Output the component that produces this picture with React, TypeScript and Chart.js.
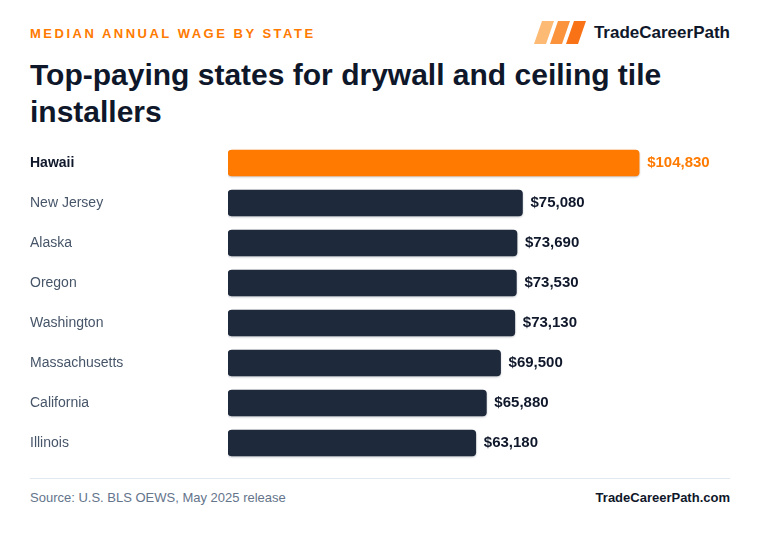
import React, { useEffect, useRef } from "react";
import { Chart, registerables } from "chart.js";

Chart.register(...registerables);

const states = [
  "Hawaii",
  "New Jersey",
  "Alaska",
  "Oregon",
  "Washington",
  "Massachusetts",
  "California",
  "Illinois",
];
const wages = [104830, 75080, 73690, 73530, 73130, 69500, 65880, 63180];
const highlightIndex = 0;

const ORANGE = "#FF7A00";
const NAVY = "#1E293B";
const INK = "#0F172A";
const MUTED = "#475569";
const FONT = "'Liberation Sans', Arial, Helvetica, sans-serif";

const fmt = (v: number) => "$" + v.toLocaleString("en-US");

// State names on the left and wage values at the end of each bar
const barLabels = {
  id: "barLabels",
  beforeDatasetsDraw(chart: any) {
    const ctx = chart.ctx;
    ctx.save();
    ctx.shadowColor = "rgba(15, 23, 42, 0.25)";
    ctx.shadowBlur = 2;
    ctx.shadowOffsetY = 1;
  },
  afterDatasetsDraw(chart: any) {
    const ctx = chart.ctx;
    ctx.restore();
    const meta = chart.getDatasetMeta(0);
    ctx.save();
    ctx.textBaseline = "middle";
    ctx.textAlign = "left";
    meta.data.forEach((bar: any, i: number) => {
      const hi = i === highlightIndex;
      ctx.font = `${hi ? "bold " : ""}14px ${FONT}`;
      ctx.fillStyle = hi ? INK : MUTED;
      ctx.fillText(states[i], 0, bar.y);
      ctx.font = `bold 15px ${FONT}`;
      ctx.fillStyle = hi ? ORANGE : INK;
      ctx.fillText(fmt(wages[i]), bar.x + 8, bar.y);
    });
    ctx.restore();
  },
};

function WageChart() {
  const ref = useRef<HTMLCanvasElement | null>(null);
  useEffect(() => {
    if (!ref.current) return;
    const chart = new Chart(ref.current, {
      type: "bar",
      data: {
        labels: states,
        datasets: [
          {
            data: wages,
            backgroundColor: wages.map((_, i) => (i === highlightIndex ? ORANGE : NAVY)),
            barThickness: 26,
            borderRadius: 4,
            borderSkipped: false,
          },
        ],
      },
      options: {
        indexAxis: "y",
        animation: false,
        responsive: false,
        maintainAspectRatio: false,
        layout: { padding: { left: 198, right: 0, top: 0, bottom: 0 } },
        plugins: {
          legend: { display: false },
          tooltip: { enabled: false },
          title: { display: false },
        },
        scales: {
          x: { display: false, min: 0, max: 128000 },
          y: { display: false },
        },
      },
      plugins: [barLabels],
    } as any);
    return () => chart.destroy();
  }, []);
  return (
    <canvas
      ref={ref}
      width={700}
      height={320}
      style={{ position: "absolute", left: 30, top: 143, width: 700, height: 320 }}
    />
  );
}

function Logo() {
  return (
    <div
      style={{
        position: "absolute",
        right: 30,
        top: 21,
        display: "flex",
        alignItems: "center",
        gap: 8,
      }}
    >
      <svg width="52" height="23" viewBox="0 0 52 23">
        <polygon points="8,0 20,0 12,23 0,23" fill="#FDBA74" />
        <polygon points="24,0 36,0 28,23 16,23" fill="#FB923C" />
        <polygon points="40,0 52,0 44,23 32,23" fill="#F97316" />
      </svg>
      <span style={{ fontFamily: FONT, fontWeight: 700, fontSize: 17, color: INK }}>
        TradeCareerPath
      </span>
    </div>
  );
}

export default function App() {
  return (
    <div
      style={{
        position: "fixed",
        left: 0,
        top: 0,
        width: 760,
        height: 534,
        background: "#FFFFFF",
        fontFamily: FONT,
        overflow: "hidden",
      }}
    >
      <div
        style={{
          position: "absolute",
          left: 30,
          top: 26,
          fontSize: 13,
          fontWeight: 700,
          letterSpacing: 2.5,
          color: ORANGE,
        }}
      >
        MEDIAN ANNUAL WAGE BY STATE
      </div>
      <Logo />
      <div
        style={{
          position: "absolute",
          left: 30,
          top: 56,
          width: 710,
          fontSize: 30,
          lineHeight: "37px",
          fontWeight: 700,
          color: INK,
        }}
      >
        Top-paying states for drywall and ceiling tile installers
      </div>
      <WageChart />
      <div
        style={{
          position: "absolute",
          left: 30,
          top: 478,
          width: 700,
          height: 1,
          background: "#E2E8F0",
        }}
      />
      <div
        style={{
          position: "absolute",
          left: 30,
          top: 490,
          fontSize: 13,
          color: "#64748B",
        }}
      >
        Source: U.S. BLS OEWS, May 2025 release
      </div>
      <div
        style={{
          position: "absolute",
          right: 30,
          top: 490,
          fontSize: 13,
          fontWeight: 700,
          color: INK,
        }}
      >
        TradeCareerPath.com
      </div>
    </div>
  );
}
